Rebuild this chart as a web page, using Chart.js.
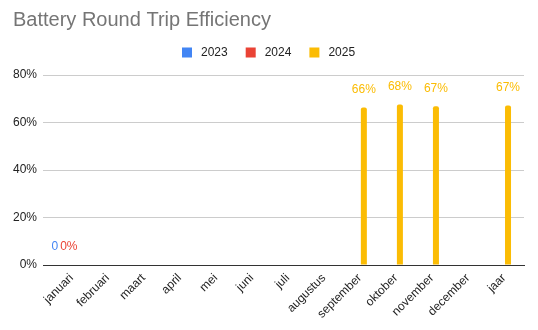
<!DOCTYPE html>
<html>
<head>
<meta charset="utf-8">
<script src="https://cdn.jsdelivr.net/npm/chart.js@4/dist/chart.umd.min.js"></script>
<style>
html,body{margin:0;padding:0;background:#fff;}
#wrap{width:538px;height:330px;position:relative;}
</style>
</head>
<body>
<div id="wrap"><canvas id="c" width="538" height="330"></canvas></div>
<script>
const titleText = "Battery Round Trip Efficiency";
const categories = ["januari","februari","maart","april","mei","juni","juli","augustus","september","oktober","november","december","jaar"];
const seriesNames = ["2023","2024","2025"];
const values2023 = [0,null,null,null,null,null,null,null,null,null,null,null,null];
const values2024 = [0,null,null,null,null,null,null,null,null,null,null,null,null];
const values2025 = [null,null,null,null,null,null,null,null,66.3,67.6,66.8,null,67.2];
const labelSuffix = ["", "%", "%"];
const yTicks = [0,20,40,60,80];

const colors = ["#4285F4","#EA4335","#FBBC04"];
const FONT = "'Liberation Sans', Arial, sans-serif";

const headerPlugin = {
  id: 'header',
  afterDraw(chart) {
    const ctx = chart.ctx;
    ctx.save();
    ctx.font = "20px " + FONT;
    ctx.fillStyle = "#757575";
    ctx.textAlign = "left";
    ctx.textBaseline = "middle";
    ctx.fillText(titleText, 13, 20);
    ctx.font = "12px " + FONT;
    const box = 10, gapText = 9, gapItem = 18, cy = 52.5;
    const widths = chart.data.datasets.map(d => box + gapText + ctx.measureText(d.label).width);
    const total = widths.reduce((a, b) => a + b, 0) + gapItem * (widths.length - 1);
    let x = Math.round(chart.width / 2 - total / 2);
    chart.data.datasets.forEach((d, i) => {
      ctx.fillStyle = d.backgroundColor;
      ctx.fillRect(x, cy - box / 2, box, box);
      ctx.fillStyle = "#222";
      ctx.fillText(d.label, x + box + gapText, cy);
      x += widths[i] + gapItem;
    });
    ctx.restore();
  }
};

const valueLabels = {
  id: 'valueLabels',
  afterDatasetsDraw(chart) {
    const ctx = chart.ctx;
    ctx.save();
    ctx.font = "12px " + FONT;
    ctx.textAlign = "left";
    ctx.textBaseline = "middle";
    // collect labels per category
    const groups = {};
    chart.data.datasets.forEach((ds, di) => {
      const meta = chart.getDatasetMeta(di);
      meta.data.forEach((el, i) => {
        const v = ds.data[i];
        if (v === null || v === undefined) return;
        const txt = Math.round(v) + labelSuffix[di];
        const w = ctx.measureText(txt).width;
        (groups[i] = groups[i] || []).push({txt, w, cx: el.x, y: el.y - 18, color: colors[di]});
      });
    });
    Object.values(groups).forEach(list => {
      let overlap = false;
      for (let k = 1; k < list.length; k++) {
        const a = list[k - 1], b = list[k];
        if (Math.abs(a.y - b.y) < 10 && a.cx + a.w / 2 + 2 > b.cx - b.w / 2) overlap = true;
      }
      if (overlap) {
        const gap = 2;
        const total = list.reduce((s, l) => s + l.w, 0) + gap * (list.length - 1);
        const mid = list.reduce((s, l) => s + l.cx, 0) / list.length;
        let x = mid - total / 2 - 2;
        list.forEach(l => { ctx.fillStyle = l.color; ctx.fillText(l.txt, x, l.y); x += l.w + gap; });
      } else {
        list.forEach(l => { ctx.fillStyle = l.color; ctx.fillText(l.txt, l.cx - l.w / 2, l.y); });
      }
    });
    ctx.restore();
  }
};

new Chart(document.getElementById('c'), {
  type: 'bar',
  data: {
    labels: categories,
    datasets: [
      {label: seriesNames[0], data: values2023, backgroundColor: colors[0]},
      {label: seriesNames[1], data: values2024, backgroundColor: colors[1]},
      {label: seriesNames[2], data: values2025, backgroundColor: colors[2]}
    ].map(d => Object.assign(d, {
      barPercentage: 1, categoryPercentage: 0.5,
      borderRadius: {topLeft: 2, topRight: 2, bottomLeft: 0, bottomRight: 0},
      borderSkipped: 'bottom'
    }))
  },
  options: {
    responsive: false,
    animation: false,
    devicePixelRatio: 1,
    layout: {padding: {left: 0, right: 14, top: 75, bottom: 0}},
    plugins: {
      title: {display: false},
      legend: {display: false},
      tooltip: {enabled: false}
    },
    scales: {
      x: {
        grid: {display: false, drawTicks: false},
        border: {display: true, color: '#333', width: 1},
        ticks: {color: '#222', font: {family: FONT, size: 12}, minRotation: 45, maxRotation: 45, padding: 6, labelOffset: 2},
        afterFit(s) { s.height = 65; },
        afterBuildTicks(s) {
          // category band inset: extra space left of first and right of last category
          s._startValue = -0.5 - 0.236;
          s._valueRange = categories.length + 0.236 + 0.11;
        }
      },
      y: {
        min: 0, max: 80,
        afterBuildTicks(s) { s.ticks = yTicks.map(v => ({value: v})); },
        grid: {color: '#cccccc', drawTicks: false},
        border: {display: false},
        ticks: {color: '#222', font: {family: FONT, size: 12}, padding: 6, callback: v => v + '%'},
        afterFit(s) { s.width = 43; }
      }
    }
  },
  plugins: [valueLabels, headerPlugin]
});
</script>
</body>
</html>
